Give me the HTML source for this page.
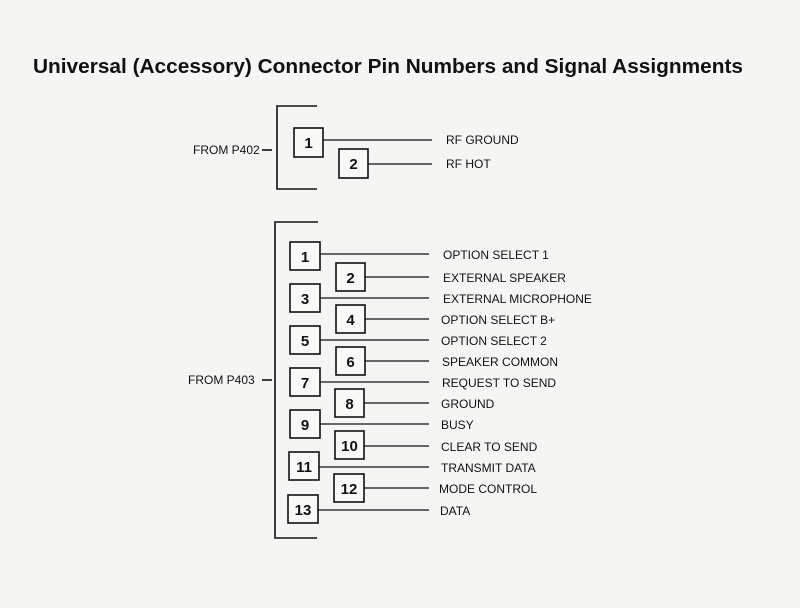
<!DOCTYPE html>
<html><head><meta charset="utf-8"><style>
html,body{margin:0;padding:0;background:#f5f5f3;}
svg{display:block;}
text{font-family:"Liberation Sans",Arial,sans-serif;fill:#111;}
</style></head><body>
<svg width="800" height="608" viewBox="0 0 800 608" xmlns="http://www.w3.org/2000/svg">
<rect width="800" height="608" fill="#f5f5f3"/>
<text x="33" y="73" font-size="20" font-weight="bold" textLength="710" lengthAdjust="spacingAndGlyphs">Universal (Accessory) Connector Pin Numbers and Signal Assignments</text>
<g stroke="#111" stroke-width="1.6" fill="none">
<path d="M317 106 H277 V189 H317"/>
<line x1="262" y1="150" x2="272" y2="150"/>
<rect x="294" y="128" width="29" height="29" fill="#f8f8f6"/>
<rect x="339" y="149" width="29" height="29" fill="#f8f8f6"/>
<line x1="323" y1="140" x2="432" y2="140" stroke-width="1.2"/>
<line x1="368" y1="164" x2="432" y2="164" stroke-width="1.2"/>
<path d="M318 222 H275 V538 H317"/>
<line x1="262" y1="380" x2="272" y2="380"/>
</g>
<g font-size="12">
<text x="193" y="154">FROM P402</text>
<text x="446" y="144">RF GROUND</text>
<text x="446" y="168">RF HOT</text>
<text x="188" y="384">FROM P403</text>
</g>
<g font-size="15" font-weight="bold" text-anchor="middle">
<text x="308.5" y="148">1</text>
<text x="353.5" y="169">2</text>
</g>
<g stroke="#111" stroke-width="1.6" fill="#f8f8f6">
<rect x="290" y="242" width="30" height="28"/>
<rect x="336" y="263" width="29" height="28"/>
<rect x="290" y="284" width="30" height="28"/>
<rect x="336" y="305" width="29" height="28"/>
<rect x="290" y="326" width="30" height="28"/>
<rect x="336" y="347" width="29" height="28"/>
<rect x="290" y="368" width="30" height="28"/>
<rect x="335" y="389" width="29" height="28"/>
<rect x="290" y="410" width="30" height="28"/>
<rect x="335" y="431" width="29" height="28"/>
<rect x="289" y="452" width="30" height="28"/>
<rect x="334" y="474" width="30" height="28"/>
<rect x="288" y="495" width="30" height="28"/>
</g>
<g stroke="#111" stroke-width="1.2">
<line x1="320" y1="254" x2="429" y2="254"/>
<line x1="365" y1="277" x2="429" y2="277"/>
<line x1="320" y1="298" x2="429" y2="298"/>
<line x1="365" y1="319" x2="429" y2="319"/>
<line x1="320" y1="340" x2="429" y2="340"/>
<line x1="365" y1="361" x2="429" y2="361"/>
<line x1="320" y1="382" x2="429" y2="382"/>
<line x1="364" y1="403" x2="429" y2="403"/>
<line x1="320" y1="424" x2="429" y2="424"/>
<line x1="364" y1="446" x2="429" y2="446"/>
<line x1="319" y1="467" x2="429" y2="467"/>
<line x1="364" y1="488" x2="429" y2="488"/>
<line x1="318" y1="510" x2="429" y2="510"/>
</g>
<g font-size="15" font-weight="bold" text-anchor="middle">
<text x="305" y="262">1</text>
<text x="350.5" y="283">2</text>
<text x="305" y="304">3</text>
<text x="350.5" y="325">4</text>
<text x="305" y="346">5</text>
<text x="350.5" y="367">6</text>
<text x="305" y="388">7</text>
<text x="349.5" y="409">8</text>
<text x="305" y="430">9</text>
<text x="349.5" y="451">10</text>
<text x="304" y="472">11</text>
<text x="349" y="494">12</text>
<text x="303" y="515">13</text>
</g>
<g font-size="12">
<text x="443" y="259">OPTION SELECT 1</text>
<text x="443" y="282">EXTERNAL SPEAKER</text>
<text x="443" y="303">EXTERNAL MICROPHONE</text>
<text x="441" y="324">OPTION SELECT B+</text>
<text x="441" y="345">OPTION SELECT 2</text>
<text x="442" y="366">SPEAKER COMMON</text>
<text x="442" y="387">REQUEST TO SEND</text>
<text x="441" y="408">GROUND</text>
<text x="441" y="429">BUSY</text>
<text x="441" y="451">CLEAR TO SEND</text>
<text x="441" y="472">TRANSMIT DATA</text>
<text x="439" y="493">MODE CONTROL</text>
<text x="440" y="515">DATA</text>
</g>
</svg>
</body></html>
